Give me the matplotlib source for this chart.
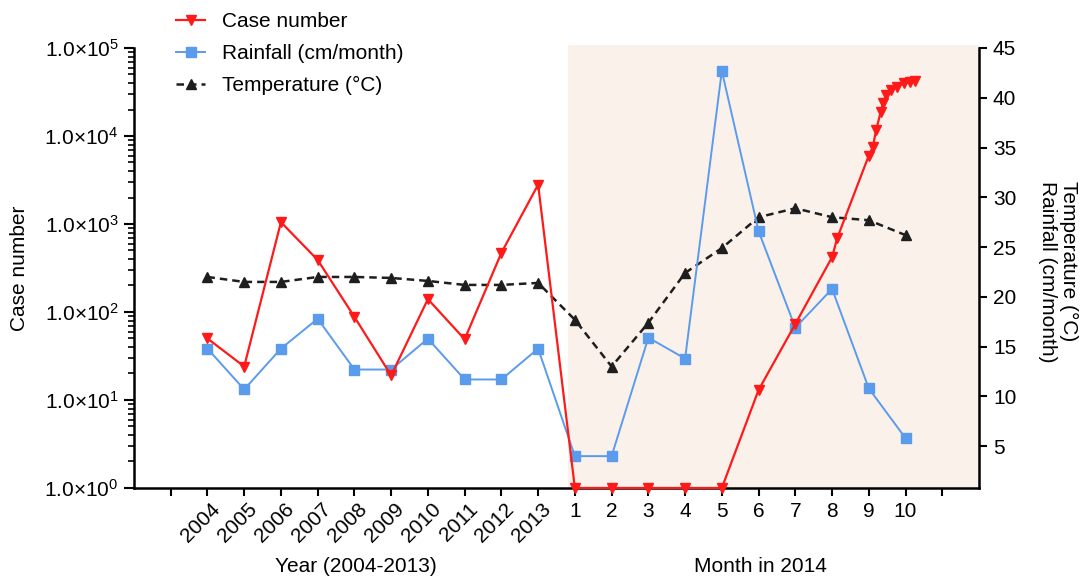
import matplotlib
matplotlib.use('Agg')
import matplotlib.pyplot as plt
import matplotlib.transforms as mtransforms
from matplotlib.patches import Rectangle
from matplotlib.ticker import FixedLocator, FuncFormatter, LogLocator, NullFormatter
import numpy as np

plt.rcParams['font.family'] = ['Liberation Sans', 'DejaVu Sans']
plt.rcParams['mathtext.fontset'] = 'custom'
plt.rcParams['mathtext.rm'] = 'Liberation Sans'
plt.rcParams['font.size'] = 15

## data
years = list(range(2004, 2014))
months = list(range(1, 11))

case_years = [50, 24, 1050, 390, 88, 19, 140, 49, 470, 2800]
# 2014 counts at (fractional) month positions
case_month_x = [1, 2, 3, 4, 5, 6, 7, 8, 8.14, 9.0, 9.11, 9.2, 9.32, 9.39,
                9.47, 9.6, 9.78, 9.95, 10.13, 10.27]
case_month = [1, 1, 1, 1, 1, 13, 73, 420, 690, 6000, 7500, 11700, 18500, 24000,
              29500, 33500, 36500, 39500, 41000, 42500]

rain_years = [14.8, 10.7, 14.8, 17.8, 12.7, 12.7, 15.8, 11.7, 11.7, 14.8]
rain_month = [4.0, 4.0, 15.9, 13.8, 42.7, 26.6, 16.9, 20.8, 10.8, 5.8]

temp_years = [22.0, 21.5, 21.5, 22.0, 22.0, 21.9, 21.6, 21.2, 21.2, 21.4]
temp_month = [17.7, 13.0, 17.4, 22.4, 24.9, 28.0, 28.9, 28.0, 27.7, 26.2]

## positions: years 0..9, month m -> 9+m
yr_pos = list(range(len(years)))
case_x = yr_pos + [9 + m for m in case_month_x]
case_y = case_years + case_month
mon_pos = [9 + m for m in months]
rt_x = yr_pos + mon_pos

fig = plt.figure(figsize=(10.83, 5.79), dpi=100)
ax = fig.add_axes([0.1237, 0.1572, 0.7803, 0.7599])
ax2 = ax.twinx()
ax.set_zorder(ax2.get_zorder() + 1)
ax.patch.set_visible(False)

# shaded 2014 block
trans = mtransforms.blended_transform_factory(ax2.transData, ax2.transAxes)
ax2.add_patch(Rectangle((9.8, 0), 11.2, 1.007, transform=trans, facecolor='#FBF1EB',
                        edgecolor='none', zorder=0, clip_on=False))

l2, = ax2.plot(rt_x, rain_years + rain_month, color='#5B9BEB', lw=1.4, marker='s', ms=6.5,
               label='Rainfall (cm/month)', zorder=3)
l3, = ax2.plot(rt_x, temp_years + temp_month, color='#1E1E1E', lw=1.8, ls=(0, (3, 2)),
               marker='^', ms=7.5, label='Temperature (°C)', zorder=2)
l1, = ax.plot(case_x, case_y, color='#FF1A1A', lw=1.6, marker='v', ms=7.5,
              label='Case number', clip_on=False, zorder=4)

ax.set_xlim(-2, 21)
ax.set_yscale('log')
ax.set_ylim(1, 1e5)
ax2.set_ylim(0.8, 45)
ax2.set_yticks(range(5, 50, 5))

ax.yaxis.set_major_locator(LogLocator(base=10, numticks=10))
ax.yaxis.set_minor_locator(LogLocator(base=10, subs=np.arange(2, 10), numticks=20))
ax.yaxis.set_minor_formatter(NullFormatter())
ax.yaxis.set_major_formatter(FuncFormatter(
    lambda v, _: r'$\mathregular{1.0×10^{%d}}$' % round(np.log10(v))))

# ticks: blank, years (drawn as rotated text below), months, blank
xt = list(range(-1, 21))
xl = [''] * 11 + [str(m) for m in months] + ['']
ax.xaxis.set_major_locator(FixedLocator(xt))
ax.set_xticklabels(xl)

yr_trans = (mtransforms.blended_transform_factory(ax.transData, ax.transAxes) +
            mtransforms.ScaledTranslation(0.1, -0.18, fig.dpi_scale_trans))
for p, y in zip(yr_pos, years):
    ax.text(p, 0, str(y), rotation=45, rotation_mode='anchor', ha='right', va='center',
            transform=yr_trans)

for a in (ax, ax2):
    a.spines['top'].set_visible(False)
    for s in a.spines.values():
        s.set_linewidth(1.8)
ax.spines['right'].set_visible(False)
ax2.spines['left'].set_visible(False)
ax2.spines['bottom'].set_visible(False)

ax.tick_params(axis='x', direction='out', length=6, width=1.5, pad=4)
ax.tick_params(axis='y', which='major', direction='out', length=7, width=1.5, pad=4)
ax.tick_params(axis='y', which='minor', direction='out', length=4, width=1.2)
ax2.tick_params(axis='y', direction='out', length=6, width=1.5, pad=4)

fig.text(20 / 1083, 1 - 268 / 579, 'Case number', rotation=90, ha='center', va='center')
fig.text(1058 / 1083, 1 - 272 / 579, 'Temperature (°C)\nRainfall (cm/month)',
         rotation=270, ha='center', va='center', multialignment='left', linespacing=1.1)
fig.text(356 / 1083, 1 - 567 / 579, 'Year (2004-2013)', ha='center', va='center')
fig.text(760 / 1083, 1 - 567 / 579, 'Month in 2014', ha='center', va='center')

fig.legend(handles=[l1, l2, l3], loc='upper left', bbox_to_anchor=(176 / 1083, 1 - 12 / 579),
           frameon=False, handlelength=1.4, handletextpad=0.8, labelspacing=0.62,
           borderpad=0, borderaxespad=0)

fig.savefig('out.png', dpi=100)
